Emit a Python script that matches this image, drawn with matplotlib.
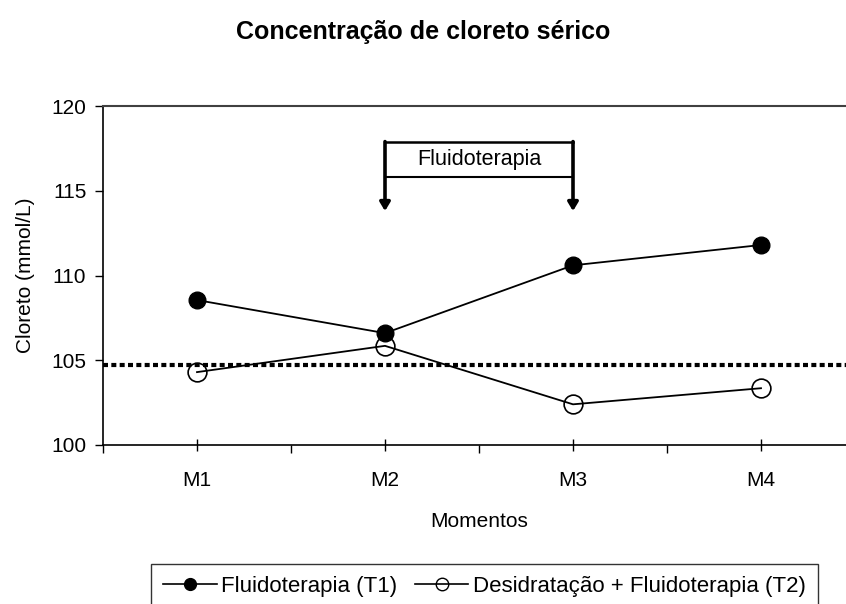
import numpy as np
import matplotlib
matplotlib.use('Agg')
import matplotlib.pyplot as plt
from matplotlib.lines import Line2D

plt.rcParams['font.family'] = ['Liberation Sans', 'DejaVu Sans']

momentos = ['M1', 'M2', 'M3', 'M4']
t1_values = [108.55, 106.6, 110.6, 111.8]
t2_values = [104.3, 105.85, 102.4, 103.35]
reference_level = 104.72
t1_label = 'Fluidoterapia (T1)'
t2_label = 'Desidratação + Fluidoterapia (T2)'
box_text = 'Fluidoterapia'
box_start, box_end = 1, 2  # M2 -> M3

W, H = 846, 604
fs = 15
fig = plt.figure(figsize=(W / 100, H / 100), dpi=100)
ax = fig.add_axes([103 / W, 1 - 445 / H, 752 / W, 339 / H])

x = np.arange(len(momentos))

# dotted reference line
ax.axhline(reference_level, color='black', lw=3, ls=(0, (1.2, 0.8)), zorder=2)

ax.plot(x, t1_values, color='black', lw=1.3, marker='o', ms=12,
        mfc='black', mec='black', zorder=3)
ax.plot(x, t2_values, color='black', lw=1.3, marker='o', ms=13.5,
        mfc='none', mec='black', mew=1.2, zorder=3)

# "Fluidoterapia" box with arrows at both ends
y_top, y_bot, y_tip = 117.9, 115.8, 113.8
ax.plot([box_start, box_end], [y_top, y_top], color='black', lw=1.8,
        solid_capstyle='projecting', zorder=4)
ax.plot([box_start, box_end], [y_bot, y_bot], color='black', lw=1.5, zorder=4)
for xv in (box_start, box_end):
    ax.annotate('', xy=(xv, y_tip), xytext=(xv, y_top),
                arrowprops=dict(arrowstyle='-|>,head_length=0.5,head_width=0.3',
                                color='black', lw=2.6, shrinkA=0, shrinkB=0),
                zorder=4)
ax.text((box_start + box_end) / 2, (y_top + y_bot) / 2, box_text,
        ha='center', va='center', fontsize=15.5)

ax.set_xlim(-0.5, 3.5)
ax.set_ylim(100, 120)
ax.set_yticks([100, 105, 110, 115, 120])
ax.set_xticks(x)
ax.set_xticklabels(momentos)
ax.set_xticks(np.arange(-0.5, 3.6, 1), minor=True)
ax.tick_params(axis='x', which='major', direction='inout', length=9, width=1,
               labelsize=fs, pad=14)
ax.tick_params(axis='x', which='minor', direction='out', length=6, width=1)
ax.tick_params(axis='y', direction='out', length=6, width=1, labelsize=fs, pad=6)

ax.spines['right'].set_visible(False)
for side in ('left', 'bottom'):
    ax.spines[side].set_linewidth(1.2)
ax.spines['top'].set_color('#404040')
ax.spines['top'].set_linewidth(1.5)

ax.set_ylabel('Cloreto (mmol/L)', fontsize=fs, labelpad=12)
ax.set_xlabel('Momentos', fontsize=fs, labelpad=16)
fig.text(0.5, 1 - 32 / H, 'Concentração de cloreto sérico', ha='center',
         va='center', fontsize=18, fontweight='bold')

handles = [
    Line2D([0], [0], color='black', lw=1.2, marker='o', ms=8.5, mfc='black'),
    Line2D([0], [0], color='black', lw=1.2, marker='o', ms=9, mfc='none'),
]
leg = fig.legend(handles, [t1_label, t2_label], loc='upper left',
                 bbox_to_anchor=(151 / W, 1 - 564 / H), ncol=2,
                 fontsize=16, frameon=True, fancybox=False,
                 handlelength=2.4, handletextpad=0.2, columnspacing=0.8,
                 borderpad=0.55, borderaxespad=0)
leg.get_frame().set_edgecolor('black')
leg.get_frame().set_linewidth(1)

fig.savefig('out.png', dpi=100)
